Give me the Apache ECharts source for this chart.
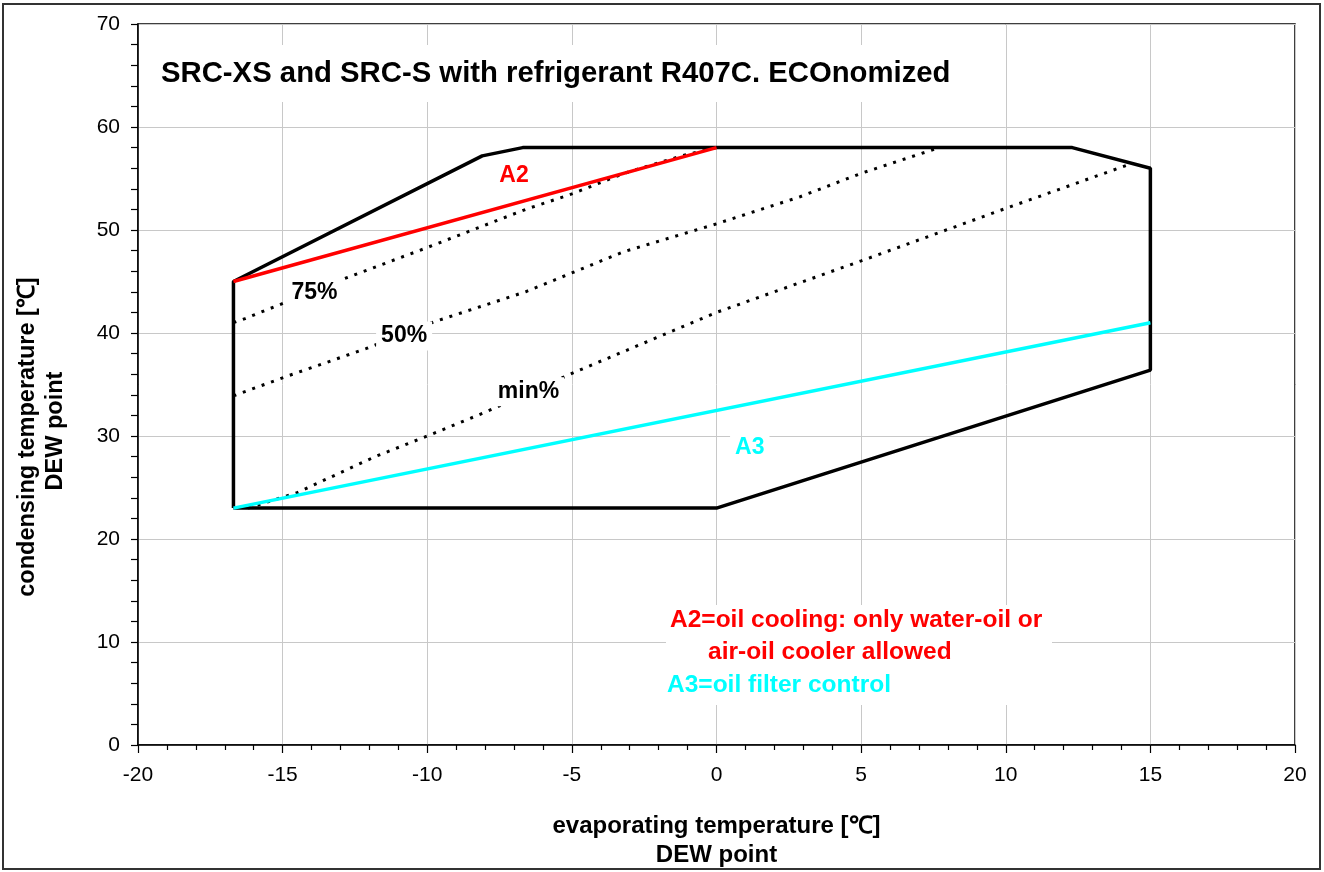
<!DOCTYPE html>
<html>
<head>
<meta charset="utf-8">
<script src="https://cdn.jsdelivr.net/npm/echarts@6/dist/echarts.min.js"></script>
<style>
html,body{margin:0;padding:0;background:#fff;}
#c{width:1324px;height:872px;}
</style>
</head>
<body>
<div id="c"></div>
<script>
// ---- data (evaporating temp, condensing temp) ----
const envelope = [[-16.7,23],[-16.7,45],[-8.1,57.2],[-6.7,58],[12.3,58],[15,56],[15,36.4],[0,23],[-16.7,23]];
const lineA2 = [[-16.7,45],[0,58]];
const lineA3 = [[-16.7,23],[15,41]];
const line75 = [[-16.7,41],[-16.3,41.4],[-12.75,45.4],[-10,48.3],[-6.6,52.0],[-5,53.5],[-3.2,55.5],[-1.2,57.2],[0,58]];
const line50 = [[-16.7,33.9],[-14.8,35.85],[-12.1,38.5],[-9.75,41.1],[-6.6,44.0],[-3.2,47.9],[0,50.6],[2.86,53.2],[5,55.5],[7.7,58]];
const lineMin = [[-16.2,23],[-14.5,24.5],[-11.8,28],[-10,30],[-8,32.3],[-4.9,36.2],[0,42],[5,47],[10,52.1],[14.3,56.4]];
const labelNames = ['75%','50%','min%','A2','A3'];
const labelPos = [[-13.9,43.9],[-10.8,39.7],[-6.5,34.3],[-7.0,55.3],[1.15,28.9]];
const labelColors = ['#000000','#000000','#000000','#FF0000','#00FFFF'];
const titleText = 'SRC-XS and SRC-S with refrigerant R407C. ECOnomized';
const xName = 'evaporating temperature [℃]\nDEW point';
const yNameLines = ['condensing temperature [℃]','DEW point'];
const noteLines = ['A2=oil cooling: only water-oil or','air-oil cooler allowed','A3=oil filter control'];
const noteColors = ['#FF0000','#FF0000','#00FFFF'];

const FONT = '"Liberation Sans", Arial, sans-serif';
const chart = echarts.init(document.getElementById('c'), null, {renderer:'canvas'});

const labelData = labelNames.map((n,i)=>({name:n, value:labelPos[i], label:{color:labelColors[i]}}));

const option = {
  backgroundColor:'#ffffff',
  animation:false,
  title:{
    text:titleText, left:139, top:45,
    padding:[14,20,14,22],
    backgroundColor:'#ffffff',
    textStyle:{fontFamily:FONT, fontWeight:'bold', fontSize:29.3, color:'#000'}
  },
  grid:{left:138, right:29, top:24, bottom:127, show:true, borderColor:'#000', borderWidth:1.5,
        backgroundColor:'transparent', outerBoundsMode:'none', containLabel:false},
  xAxis:{
    type:'value', min:-20, max:20, interval:5,
    name:xName, nameLocation:'middle', nameGap:67,
    nameTextStyle:{fontFamily:FONT, fontWeight:'bold', fontSize:24, color:'#000', lineHeight:29},
    axisLine:{show:true, onZero:false, lineStyle:{color:'#000', width:1.5}},
    axisTick:{show:true, inside:false, length:8, lineStyle:{color:'#000', width:1.2}},
    minorTick:{show:true, splitNumber:5, length:5, lineStyle:{color:'#000', width:1.2}},
    axisLabel:{fontFamily:FONT, fontSize:21, color:'#000', margin:20},
    splitLine:{show:true, lineStyle:{color:'#c8c8c8', width:1}}
  },
  yAxis:{
    type:'value', min:0, max:70, interval:10,
    axisLine:{show:true, onZero:false, lineStyle:{color:'#000', width:1.5}},
    axisTick:{show:true, inside:false, length:7, lineStyle:{color:'#000', width:1.2}},
    minorTick:{show:true, splitNumber:5, length:7, lineStyle:{color:'#000', width:1.2}},
    axisLabel:{fontFamily:FONT, fontSize:21, color:'#000', margin:18},
    splitLine:{show:true, lineStyle:{color:'#c8c8c8', width:1}}
  },
  graphic:[
    {type:'rect', shape:{x:3, y:4, width:1317, height:865}, style:{fill:'none', stroke:'#333', lineWidth:2}, z:100},
    {type:'text', x:28, y:437, rotation:Math.PI/2, style:{text:yNameLines[0], fill:'#000', font:'bold 23.5px '+FONT, align:'center', verticalAlign:'middle'}, z:51},
    {type:'text', x:56, y:431, rotation:Math.PI/2, style:{text:yNameLines[1], fill:'#000', font:'bold 23.5px '+FONT, align:'center', verticalAlign:'middle'}, z:51},
    {type:'rect', shape:{x:666, y:605, width:386, height:100}, style:{fill:'#fff'}, z:50},
    {type:'text', x:670, y:620, style:{text:noteLines[0], fill:noteColors[0], font:'bold 24.5px '+FONT, verticalAlign:'middle'}, z:51},
    {type:'text', x:708, y:652, style:{text:noteLines[1], fill:noteColors[1], font:'bold 24.5px '+FONT, verticalAlign:'middle'}, z:51},
    {type:'text', x:667, y:685, style:{text:noteLines[2], fill:noteColors[2], font:'bold 24.5px '+FONT, verticalAlign:'middle'}, z:51}
  ],
  series:[
    {type:'line', data:line75, symbol:'none', lineStyle:{color:'#000', width:3, type:[3,7]}, z:3},
    {type:'line', data:line50, symbol:'none', lineStyle:{color:'#000', width:3, type:[3,7]}, z:3},
    {type:'line', data:lineMin, symbol:'none', lineStyle:{color:'#000', width:3, type:[3,7]}, z:3},
    {type:'line', data:envelope, symbol:'none', lineStyle:{color:'#000', width:3.5}, z:4},
    {type:'line', data:lineA2, symbol:'none', lineStyle:{color:'#FF0000', width:3.5}, z:5},
    {type:'line', data:lineA3, symbol:'none', lineStyle:{color:'#00FFFF', width:3.5}, z:5},
    {type:'scatter', data:labelData, symbolSize:0, z:6, itemStyle:{color:'#000', opacity:1},
      label:{show:true, position:'inside', formatter:'{b}', color:'#000', textBorderWidth:0,
        fontFamily:FONT, fontWeight:'bold', fontSize:23,
        backgroundColor:'#fff', padding:[3,5]}}
  ]
};
chart.setOption(option);
</script>
</body>
</html>
